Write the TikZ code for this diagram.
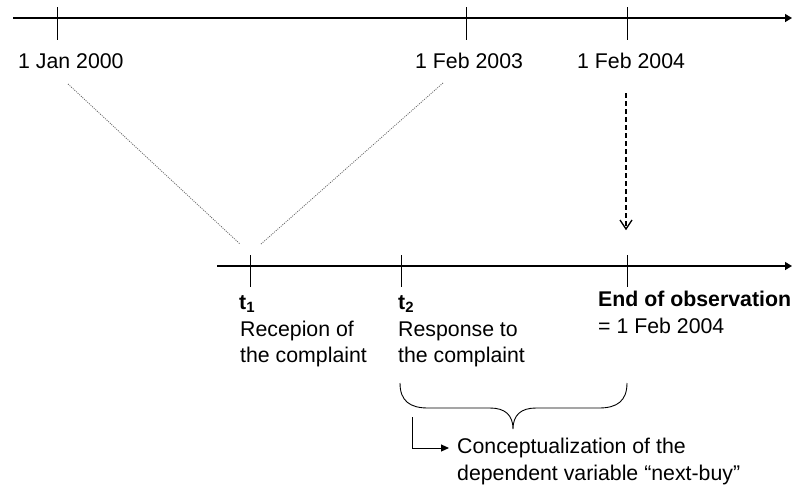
\documentclass[tikz,border=0pt]{standalone}
\usepackage{fontspec}
\setmainfont{Liberation Sans}
\usetikzlibrary{arrows.meta}
\begin{document}
\begin{tikzpicture}[x=1pt,y=-1pt,
  lbl/.style={anchor=base west,inner sep=0pt,font=\fontsize{21.3}{24}\selectfont},
  blbl/.style={lbl,font=\fontsize{21.3}{24}\selectfont\bfseries},
  axis/.style={line width=1.4pt,-{Triangle[length=7pt,width=8pt]}},
  tick/.style={line width=0.9pt},
  dots/.style={line width=0.8pt,black!60,dash pattern=on 1pt off 1.2pt},
  dashline/.style={line width=1.3pt,dash pattern=on 5pt off 3pt},
  vhead/.style={line width=1.3pt},
  brace/.style={line width=0.9pt},
  bent/.style={line width=1pt,-{Triangle[length=8pt,width=7pt]}}]
\useasboundingbox (0,0) rectangle (792,485);

% top axis
\coordinate (ta0) at (13,18);
\coordinate (ta1) at (792,18);
\draw[axis] (ta0) -- (ta1);
\coordinate (k1a) at (57,7);  \coordinate (k1b) at (57,40);
\coordinate (k2a) at (466,7); \coordinate (k2b) at (466,40);
\coordinate (k3a) at (627,7); \coordinate (k3b) at (627,40);
\draw[tick] (k1a) -- (k1b);
\draw[tick] (k2a) -- (k2b);
\draw[tick] (k3a) -- (k3b);

\node[lbl] (d1) at (18,68) {1 Jan 2000};
\node[lbl] (d2) at (415,68) {1 Feb 2003};
\node[lbl] (d3) at (577,68) {1 Feb 2004};

% bottom axis
\coordinate (ba0) at (217,266);
\coordinate (ba1) at (792,266);
\draw[axis] (ba0) -- (ba1);
\coordinate (b1a) at (250,255); \coordinate (b1b) at (250,287);
\coordinate (b2a) at (401,255); \coordinate (b2b) at (401,287);
\coordinate (b3a) at (627,255); \coordinate (b3b) at (627,287);
\draw[tick] (b1a) -- (b1b);
\draw[tick] (b2a) -- (b2b);
\draw[tick] (b3a) -- (b3b);

% dotted lines
\coordinate (p1) at (68,84);
\coordinate (p2) at (240,244);
\coordinate (p3) at (443,83);
\coordinate (p4) at (261,244);
\draw[dots] (p1) -- (p2);
\draw[dots] (p3) -- (p4);

% dashed arrow with open V head
\coordinate (q1) at (626,93);
\coordinate (q2) at (626,229);
\coordinate (qa) at (620,220);
\coordinate (qb) at (632,220);
\draw[dashline] (q1) -- (q2);
\draw[vhead,line join=miter] (qa) -- (q2) -- (qb);

% labels below bottom axis
\node[blbl] (t1) at (239,309) {t\textsubscript{1}};
\node[lbl] (t1l1) at (240,336) {Recepion of};
\node[lbl] (t1l2) at (240,362) {the complaint};
\node[blbl] (t2) at (398,309) {t\textsubscript{2}};
\node[lbl] (t2l1) at (398,336) {Response to};
\node[lbl] (t2l2) at (398,362) {the complaint};
\node[blbl] (eo) at (598,306) {End of observation};
\node[lbl] (eo2) at (598,333) {= 1 Feb 2004};

% brace
\coordinate (bl) at (400,383);
\coordinate (bt) at (513,429);
\coordinate (br) at (627,383);
\draw[brace] (bl) .. controls (400,401) and (410,408) .. (428,408)
  -- (490,408) .. controls (505,408) and (513,415) .. (bt)
  .. controls (513,415) and (521,408) .. (536,408)
  -- (599,408) .. controls (617,408) and (627,401) .. (br);

% bent arrow
\coordinate (r0) at (412,417);
\coordinate (r1) at (412,448);
\coordinate (r2) at (449,448);
\node[lbl] (c1) at (457,453) {Conceptualization of the};
\node[lbl] (c2) at (457,480) {dependent variable “next-buy”};
\draw[bent] (r0) -- (r1) -- (r2);
\end{tikzpicture}
\end{document}
